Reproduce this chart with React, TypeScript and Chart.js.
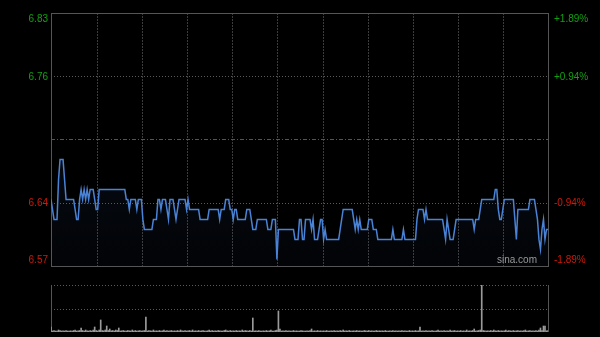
import React, { useEffect, useRef } from 'react';
import { Chart, registerables } from 'chart.js';

Chart.register(...registerables);

// ---- data ----
const PREV_CLOSE = 6.7;
const RANGE_PCT = 0.0189;
const leftTickLabels = ['6.83', '6.76', '', '6.64', '6.57'];
const rightTickLabels = ['+1.89%', '+0.94%', '', '-0.94%', '-1.89%'];
const timeGridIndex = [30, 60, 90, 120, 150, 180, 210, 240, 270, 300];
const LAST_INDEX = 330;
const WATERMARK = 'sina.com';

const prices = [
  6.64, 6.63, 6.62, 6.62, 6.62, 6.66, 6.68, 6.68, 6.68, 6.66,
  6.64, 6.64, 6.64, 6.64, 6.64, 6.64, 6.63, 6.62, 6.62, 6.64,
  6.65, 6.64, 6.65, 6.64, 6.65, 6.64, 6.65, 6.65, 6.65, 6.64,
  6.63, 6.63, 6.65, 6.65, 6.65, 6.65, 6.65, 6.65, 6.65, 6.65,
  6.65, 6.65, 6.65, 6.65, 6.65, 6.65, 6.65, 6.65, 6.65, 6.65,
  6.64, 6.64, 6.63, 6.64, 6.64, 6.64, 6.64, 6.63, 6.64, 6.64,
  6.64, 6.62, 6.61, 6.61, 6.61, 6.61, 6.61, 6.61, 6.62, 6.62,
  6.62, 6.64, 6.64, 6.63, 6.64, 6.64, 6.64, 6.63, 6.62, 6.64,
  6.64, 6.64, 6.63, 6.62, 6.63, 6.64, 6.64, 6.64, 6.64, 6.64,
  6.63, 6.64, 6.63, 6.63, 6.63, 6.63, 6.63, 6.63, 6.63, 6.62,
  6.62, 6.62, 6.62, 6.62, 6.62, 6.63, 6.63, 6.63, 6.63, 6.63,
  6.63, 6.63, 6.62, 6.63, 6.63, 6.63, 6.64, 6.64, 6.64, 6.63,
  6.63, 6.62, 6.63, 6.63, 6.62, 6.62, 6.62, 6.62, 6.62, 6.62,
  6.63, 6.63, 6.63, 6.62, 6.61, 6.61, 6.61, 6.62, 6.62, 6.62,
  6.62, 6.62, 6.62, 6.62, 6.61, 6.61, 6.61, 6.62, 6.62, 6.62,
  6.58, 6.61, 6.61, 6.61, 6.61, 6.61, 6.61, 6.61, 6.61, 6.61,
  6.61, 6.61, 6.60, 6.60, 6.60, 6.62, 6.62, 6.60, 6.60, 6.62,
  6.62, 6.62, 6.62, 6.61, 6.62, 6.60, 6.60, 6.60, 6.61, 6.62,
  6.62, 6.60, 6.61, 6.60, 6.60, 6.60, 6.60, 6.60, 6.60, 6.60,
  6.60, 6.60, 6.61, 6.62, 6.63, 6.63, 6.63, 6.63, 6.63, 6.63,
  6.63, 6.62, 6.61, 6.62, 6.61, 6.62, 6.61, 6.61, 6.61, 6.61,
  6.61, 6.62, 6.62, 6.62, 6.61, 6.61, 6.61, 6.60, 6.60, 6.60,
  6.60, 6.60, 6.60, 6.60, 6.60, 6.60, 6.60, 6.61, 6.60, 6.60,
  6.60, 6.60, 6.60, 6.60, 6.61, 6.60, 6.60, 6.60, 6.60, 6.60,
  6.60, 6.60, 6.60, 6.62, 6.63, 6.63, 6.63, 6.63, 6.62, 6.63,
  6.62, 6.62, 6.62, 6.62, 6.62, 6.62, 6.62, 6.62, 6.62, 6.62,
  6.62, 6.61, 6.60, 6.62, 6.61, 6.60, 6.60, 6.60, 6.61, 6.62,
  6.62, 6.62, 6.62, 6.62, 6.62, 6.62, 6.62, 6.62, 6.62, 6.62,
  6.62, 6.61, 6.62, 6.62, 6.62, 6.63, 6.64, 6.64, 6.64, 6.64,
  6.64, 6.64, 6.64, 6.64, 6.64, 6.65, 6.65, 6.63, 6.62, 6.62,
  6.63, 6.64, 6.64, 6.64, 6.64, 6.64, 6.64, 6.64, 6.62, 6.60,
  6.63, 6.63, 6.63, 6.63, 6.63, 6.63, 6.63, 6.63, 6.64, 6.64,
  6.64, 6.64, 6.63, 6.62, 6.60, 6.59, 6.61, 6.62, 6.60, 6.61,
  6.61,
];

const volumes = [
  50, 10, 15, 10, 8, 20, 15, 10, 12, 10,
  15, 10, 8, 12, 10, 15, 20, 10, 12, 15,
  40, 15, 10, 20, 12, 10, 15, 10, 20, 50,
  15, 10, 20, 120, 15, 12, 20, 60, 15, 30,
  12, 15, 10, 20, 15, 40, 10, 12, 15, 10,
  10, 15, 12, 10, 20, 10, 15, 10, 12, 15,
  10, 12, 15, 150, 10, 15, 12, 10, 20, 10,
  12, 10, 15, 10, 12, 20, 10, 15, 10, 12,
  15, 10, 12, 10, 15, 10, 20, 12, 10, 15,
  10, 12, 15, 10, 20, 10, 12, 10, 15, 10,
  12, 15, 10, 10, 12, 20, 10, 15, 10, 12,
  10, 15, 12, 10, 10, 15, 20, 12, 10, 15,
  10, 12, 10, 15, 10, 12, 10, 20, 10, 15,
  12, 10, 15, 10, 140, 10, 12, 10, 15, 10,
  10, 12, 10, 15, 10, 12, 20, 10, 10, 15,
  20, 210, 30, 10, 12, 10, 15, 10, 12, 10,
  10, 15, 10, 12, 10, 10, 15, 12, 10, 10,
  12, 10, 15, 30, 10, 12, 10, 15, 10, 12,
  10, 12, 10, 15, 10, 10, 12, 10, 15, 10,
  12, 10, 15, 10, 20, 10, 12, 10, 15, 10,
  10, 12, 10, 15, 10, 12, 10, 10, 15, 12,
  10, 15, 10, 12, 10, 10, 15, 10, 12, 10,
  12, 10, 15, 10, 10, 12, 10, 15, 10, 12,
  10, 12, 10, 15, 10, 12, 10, 10, 15, 10,
  12, 10, 15, 10, 12, 50, 10, 12, 10, 15,
  10, 12, 10, 15, 10, 10, 12, 20, 10, 12,
  10, 15, 10, 12, 10, 20, 10, 12, 15, 10,
  12, 10, 15, 10, 12, 10, 20, 10, 12, 10,
  15, 30, 10, 12, 15, 20, 470, 15, 12, 10,
  12, 10, 15, 10, 20, 12, 10, 15, 10, 12,
  10, 12, 20, 10, 15, 12, 10, 15, 10, 12,
  15, 10, 12, 10, 15, 20, 10, 12, 15, 10,
  12, 10, 15, 10, 20, 40, 15, 60, 60, 12,
  15,
];

// ---- derived ----
const priceMax = PREV_CLOSE * (1 + RANGE_PCT);
const priceMin = PREV_CLOSE * (1 - RANGE_PCT);
const tickValues = [priceMax, (priceMax + PREV_CLOSE) / 2, PREV_CLOSE, (PREV_CLOSE + priceMin) / 2, priceMin];
const volMax = Math.max(...volumes);

const FONT = '10px "Liberation Sans", Arial, sans-serif';
const GREEN = '#12a012';
const RED = '#d01a0a';
const BORDER = '#555555';

const crisp = (v: number) => Math.round(v + 0.5) + 0.5;

const mainPlugin = {
  id: 'mainDecor',
  beforeDatasetsDraw(chart: any) {
    const { ctx, chartArea, scales } = chart;
    const { left, right, top, bottom } = chartArea;
    ctx.save();
    ctx.lineWidth = 1;
    // vertical time grid
    ctx.strokeStyle = '#3c3c3c';
    ctx.setLineDash([2, 1]);
    for (const v of timeGridIndex) {
      const px = crisp(scales.x.getPixelForValue(v));
      ctx.beginPath();
      ctx.moveTo(px, top);
      ctx.lineTo(px, bottom);
      ctx.stroke();
    }
    // quarter lines
    ctx.strokeStyle = '#5a5a5a';
    ctx.setLineDash([1, 2]);
    for (const i of [1, 3]) {
      const py = Math.round(scales.y.getPixelForValue(tickValues[i])) + 0.5;
      ctx.beginPath();
      ctx.moveTo(left, py);
      ctx.lineTo(right, py);
      ctx.stroke();
    }
    // previous close line
    ctx.strokeStyle = '#555555';
    ctx.setLineDash([4, 2, 1, 2]);
    {
      const py = Math.round(scales.y.getPixelForValue(tickValues[2])) + 0.5;
      ctx.beginPath();
      ctx.moveTo(left, py);
      ctx.lineTo(right, py);
      ctx.stroke();
    }
    // border
    ctx.setLineDash([]);
    ctx.strokeStyle = BORDER;
    ctx.strokeRect(left + 0.5, top + 0.5, right - left, bottom - top);
    ctx.restore();
  },
  afterDraw(chart: any) {
    const { ctx, chartArea, scales } = chart;
    const { left, right, top, bottom } = chartArea;
    ctx.save();
    ctx.font = FONT;
    ctx.textBaseline = 'middle';
    tickValues.forEach((v, i) => {
      if (!leftTickLabels[i]) return;
      let py = scales.y.getPixelForValue(v) + 0.5;
      if (i === 0) py = top + 6.5;
      if (i === tickValues.length - 1) py = bottom - 5.5;
      const col = v > PREV_CLOSE ? GREEN : RED;
      ctx.fillStyle = col;
      ctx.textAlign = 'right';
      ctx.fillText(leftTickLabels[i], left - 3, py);
      ctx.textAlign = 'left';
      ctx.fillText(rightTickLabels[i], right + 6, py);
    });
    ctx.fillStyle = '#9a9a9a';
    ctx.textAlign = 'right';
    ctx.fillText(WATERMARK, right - 11, bottom - 5.5);
    ctx.restore();
  },
};

const volPlugin = {
  id: 'volDecor',
  beforeDatasetsDraw(chart: any) {
    const { ctx, chartArea, scales } = chart;
    const { left, right, top, bottom } = chartArea;
    ctx.save();
    ctx.lineWidth = 1;
    ctx.strokeStyle = '#5a5a5a';
    ctx.setLineDash([1, 2]);
    for (const v of [volMax, volMax / 2]) {
      const py = Math.round(scales.y.getPixelForValue(v)) + 0.5;
      ctx.beginPath();
      ctx.moveTo(left, py);
      ctx.lineTo(right, py);
      ctx.stroke();
    }
    ctx.setLineDash([]);
    ctx.strokeStyle = BORDER;
    ctx.beginPath();
    ctx.moveTo(left + 0.5, top);
    ctx.lineTo(left + 0.5, bottom);
    ctx.moveTo(right + 0.5, top);
    ctx.lineTo(right + 0.5, bottom);
    ctx.stroke();
    ctx.restore();
  },
};

export default function App() {
  const mainRef = useRef<HTMLCanvasElement>(null);
  const volRef = useRef<HTMLCanvasElement>(null);

  useEffect(() => {
    document.body.style.margin = '0';
    document.body.style.background = '#000';
    const main = new Chart(mainRef.current as HTMLCanvasElement, {
      type: 'line',
      data: {
        datasets: [
          {
            data: prices.map((p, i) => ({ x: i, y: p })),
            borderColor: '#4a83d6',
            borderWidth: 1.5,
            pointRadius: 0,
            tension: 0,
            fill: 'start',
            backgroundColor: (c: any) => {
              const ch = c.chart;
              const area = ch.chartArea;
              if (!area) return 'rgba(0,0,0,0)';
              const g = ch.ctx.createLinearGradient(0, area.top, 0, area.bottom);
              g.addColorStop(0, 'rgba(50,90,160,0.22)');
              g.addColorStop(0.6, 'rgba(50,90,160,0.10)');
              g.addColorStop(1, 'rgba(50,90,160,0.04)');
              return g;
            },
          },
        ],
      },
      options: {
        responsive: false,
        animation: false,
        events: [],
        layout: { padding: { left: 51, right: 52, top: 13, bottom: 4 } },
        plugins: { legend: { display: false }, tooltip: { enabled: false } },
        scales: {
          x: { type: 'linear', min: 0, max: LAST_INDEX, display: false },
          y: { type: 'linear', min: priceMin, max: priceMax, display: false },
        },
      },
      plugins: [mainPlugin],
    } as any);

    const vol = new Chart(volRef.current as HTMLCanvasElement, {
      type: 'bar',
      data: {
        datasets: [
          {
            data: volumes.map((v, i) => ({ x: i, y: v })),
            backgroundColor: '#9a9a9a',
            barThickness: 1,
            borderWidth: 0,
          },
        ],
      },
      options: {
        responsive: false,
        animation: false,
        events: [],
        layout: { padding: { left: 51, right: 52, top: 15, bottom: 5 } },
        plugins: { legend: { display: false }, tooltip: { enabled: false } },
        scales: {
          x: { type: 'linear', min: 0, max: LAST_INDEX, display: false, offset: false },
          y: { type: 'linear', min: 0, max: volMax, display: false },
        },
      },
      plugins: [volPlugin],
    } as any);

    return () => {
      main.destroy();
      vol.destroy();
    };
  }, []);

  return (
    <div style={{ position: 'fixed', left: 0, top: 0, width: 600, height: 337, background: '#000' }}>
      <canvas
        ref={mainRef}
        width={600}
        height={270}
        style={{ position: 'absolute', left: 0, top: 0, width: 600, height: 270 }}
      />
      <canvas
        ref={volRef}
        width={600}
        height={67}
        style={{ position: 'absolute', left: 0, top: 270, width: 600, height: 67 }}
      />
    </div>
  );
}
